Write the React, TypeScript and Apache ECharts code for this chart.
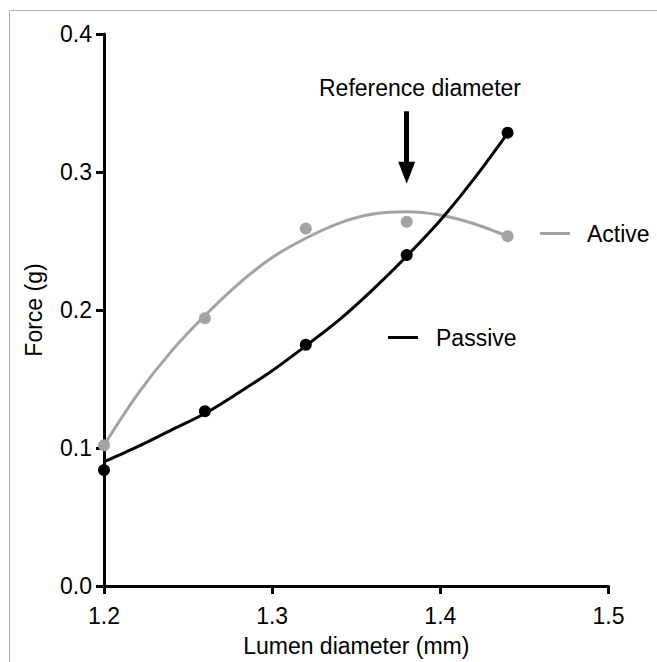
import React, { useEffect, useRef } from "react";
import * as echarts from "echarts";

// Measured points
const xValues = [1.2, 1.26, 1.32, 1.38, 1.44];
const activeValues = [0.102, 0.194, 0.259, 0.264, 0.2535];
const passiveValues = [0.084, 0.1266, 0.1748, 0.2398, 0.3285];

// Fitted curves
const fitX = [1.2, 1.22, 1.24, 1.26, 1.28, 1.3, 1.32, 1.34, 1.36, 1.38, 1.4, 1.42, 1.44];
const activeFit = [0.102, 0.139, 0.170, 0.196, 0.219, 0.238, 0.252, 0.263, 0.2695, 0.2712, 0.2688, 0.2625, 0.2535];
const passiveFit = [0.09, 0.101, 0.113, 0.125, 0.14, 0.156, 0.174, 0.193, 0.215, 0.239, 0.265, 0.295, 0.328];

// Reference arrow
const arrowX = 1.38;
const arrowTop = 0.344;
const arrowHeadCenter = 0.2995;

const xTicks = { min: 1.2, max: 1.5, interval: 0.1 };
const yTicks = { min: 0, max: 0.4, interval: 0.1 };

const FONT = "'Liberation Sans', Arial, Helvetica, sans-serif";
const FS = 23;
const GRAY = "#a3a3a3";
const BLACK = "#000000";

const pairs = (xs: number[], ys: number[]) => xs.map((x, i) => [x, ys[i]]);

export default function App() {
  const ref = useRef<HTMLDivElement>(null);
  useEffect(() => {
    const chart = echarts.init(ref.current!, null, { renderer: "svg" });
    const option: any = {
      animation: false,
      backgroundColor: "#ffffff",
      textStyle: { fontFamily: FONT },
      grid: { left: 104, right: 48.5, top: 34, bottom: 74 },
      xAxis: {
        type: "value",
        min: xTicks.min,
        max: xTicks.max,
        interval: xTicks.interval,
        name: "Lumen diameter (mm)",
        nameLocation: "middle",
        nameGap: 48,
        nameTextStyle: { fontSize: FS, color: "#000", fontFamily: FONT },
        axisLine: { lineStyle: { color: "#000", width: 3 } },
        axisTick: { show: true, length: 8, lineStyle: { color: "#000", width: 3 } },
        axisLabel: {
          fontSize: FS,
          color: "#000",
          margin: 18,
          fontFamily: FONT,
          formatter: (v: number) => v.toFixed(1),
        },
        splitLine: { show: false },
      },
      yAxis: {
        type: "value",
        min: yTicks.min,
        max: yTicks.max,
        interval: yTicks.interval,
        name: "Force (g)",
        nameLocation: "middle",
        nameGap: 59,
        nameTextStyle: { fontSize: FS, color: "#000", fontFamily: FONT },
        axisLine: { lineStyle: { color: "#000", width: 3 } },
        axisTick: { show: true, length: 8, lineStyle: { color: "#000", width: 3 } },
        axisLabel: {
          fontSize: FS,
          color: "#000",
          margin: 12,
          fontFamily: FONT,
          formatter: (v: number) => v.toFixed(1),
        },
        splitLine: { show: false },
      },
      legend: [
        {
          data: [{ name: "Active", icon: "rect", itemStyle: { color: GRAY } }],
          left: 540,
          top: 222,
          padding: 0,
          itemWidth: 30,
          itemHeight: 3,
          selectedMode: false,
          textStyle: { fontSize: FS, color: "#000", fontFamily: FONT, padding: [0, 0, 0, 12] },
        },
        {
          data: [{ name: "Passive", icon: "rect", itemStyle: { color: BLACK } }],
          left: 388,
          top: 326,
          padding: 0,
          itemWidth: 30,
          itemHeight: 3,
          selectedMode: false,
          textStyle: { fontSize: FS, color: "#000", fontFamily: FONT, padding: [0, 0, 0, 13] },
        },
      ],
      series: [
        {
          name: "Active",
          type: "line",
          data: pairs(fitX, activeFit),
          smooth: 0.3,
          symbol: "none",
          itemStyle: { color: GRAY },
          lineStyle: { color: GRAY, width: 3 },
          z: 2,
        },
        {
          name: "Passive",
          type: "line",
          data: pairs(fitX, passiveFit),
          smooth: 0.3,
          symbol: "none",
          itemStyle: { color: BLACK },
          lineStyle: { color: BLACK, width: 3 },
          z: 3,
          markLine: {
            silent: true,
            animation: false,
            symbol: ["none", "triangle"],
            symbolSize: [17, 22],
            label: { show: false },
            lineStyle: { color: BLACK, width: 5, type: "solid" },
            data: [[{ coord: [arrowX, arrowTop] }, { coord: [arrowX, arrowHeadCenter] }]],
          },
        },
        {
          name: "Active points",
          type: "scatter",
          data: pairs(xValues, activeValues),
          symbolSize: 12,
          itemStyle: { color: GRAY, opacity: 1 },
          z: 4,
        },
        {
          name: "Passive points",
          type: "scatter",
          data: pairs(xValues, passiveValues),
          symbolSize: 12,
          itemStyle: { color: BLACK, opacity: 1 },
          z: 5,
        },
      ],
      graphic: [
        {
          type: "rect",
          silent: true,
          shape: { x: 9.5, y: 10.5, width: 700, height: 700 },
          style: { fill: "none", stroke: "#b0b0b0", lineWidth: 1 },
        },
        {
          type: "text",
          silent: true,
          x: 420,
          y: 88,
          style: {
            text: "Reference diameter",
            font: `${FS}px ${FONT}`,
            fill: "#000",
            textAlign: "center",
            textVerticalAlign: "middle",
          },
        },
      ],
    };
    chart.setOption(option);
    return () => chart.dispose();
  }, []);
  return (
    <div
      ref={ref}
      style={{ position: "absolute", left: 0, top: 0, width: 657, height: 662, background: "#fff" }}
    />
  );
}
